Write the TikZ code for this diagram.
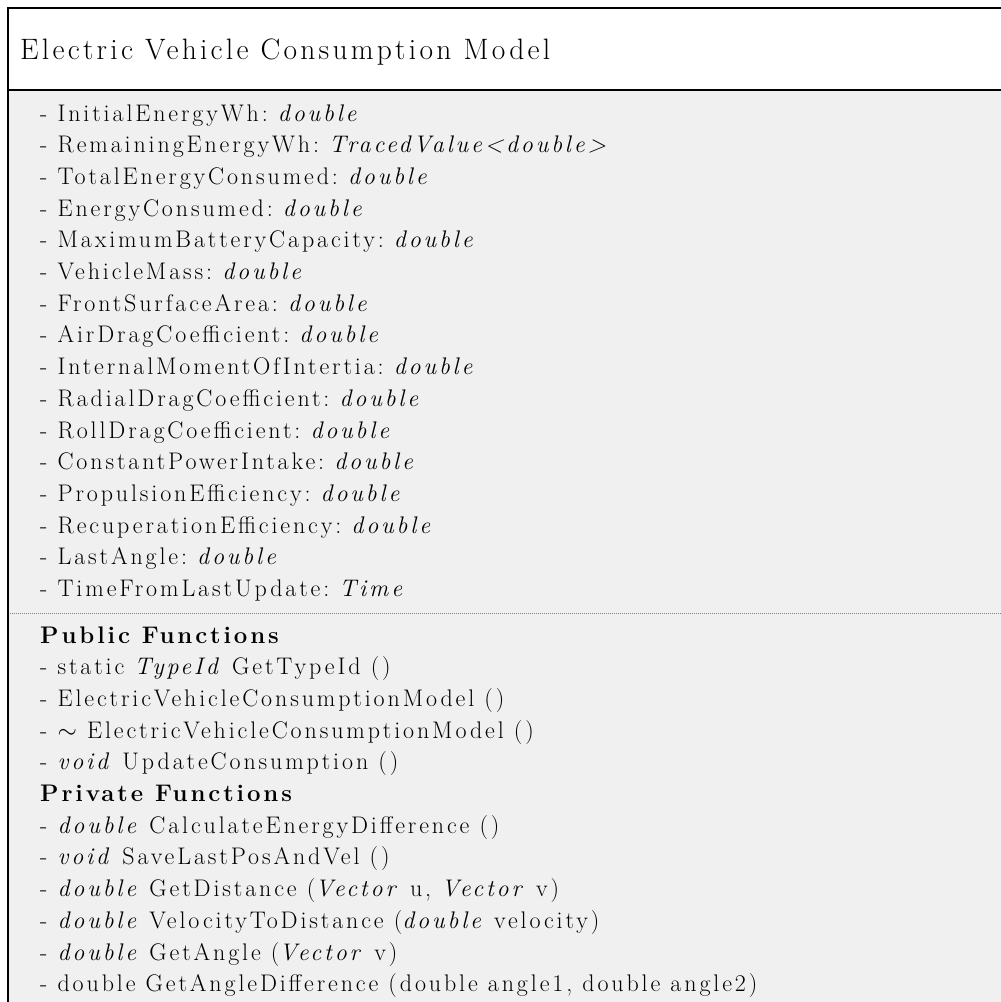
\documentclass[tikz,border=0pt]{standalone}
\usepackage{fontspec}
\setmainfont{Latin Modern Roman}
\frenchspacing
\begin{document}
\begin{tikzpicture}[x=1pt,y=-1pt,
  titletext/.style={anchor=base west,inner sep=0pt,
    font=\fontsize{29.5}{34}\selectfont\addfontfeatures{LetterSpace=11}},
  member/.style={anchor=base west,inner sep=0pt,
    font=\fontsize{24}{28}\selectfont\addfontfeatures{LetterSpace=12}},
  boxline/.style={line width=2pt,black},
  sepline/.style={line width=1pt,gray,dash pattern=on 1pt off 1pt}]
\useasboundingbox (0,0) rectangle (1001,1002);
\clip (0,0) rectangle (1001,1002);
% class compartments
\fill[white] (7.8,7.8) rectangle (1020,90.3);
\fill[black!6] (7.8,90.3) rectangle (1020,1020);
\draw[sepline] (7.8,613) -- (1020,613);
\draw[boxline] (7.8,1020) -- (7.8,7.8) -- (1020,7.8);
\draw[boxline] (7.8,90.3) -- (1020,90.3);
% class name
\node[titletext] (title) at (20,59) {Electric Vehicle Consumption Model};
% attributes
\foreach \n/\t [count=\i from 0] in {
  a1/{- InitialEnergyWh: \textit{double}},
  a2/{- RemainingEnergyWh: \textit{TracedValue<double>}},
  a3/{- TotalEnergyConsumed: \textit{double}},
  a4/{- EnergyConsumed: \textit{double}},
  a5/{- MaximumBatteryCapacity: \textit{double}},
  a6/{- VehicleMass: \textit{double}},
  a7/{- FrontSurfaceArea: \textit{double}},
  a8/{- AirDragCoefficient: \textit{double}},
  a9/{- InternalMomentOfIntertia: \textit{double}},
  a10/{- RadialDragCoefficient: \textit{double}},
  a11/{- RollDragCoefficient: \textit{double}},
  a12/{- ConstantPowerIntake: \textit{double}},
  a13/{- PropulsionEfficiency: \textit{double}},
  a14/{- RecuperationEfficiency: \textit{double}},
  a15/{- LastAngle: \textit{double}},
  a16/{- TimeFromLastUpdate: \textit{Time}}}
  \node[member] (\n) at (40,{121+31.7*\i}) {\t};
% operations
\foreach \n/\t [count=\i from 0] in {
  pubhdr/{\textbf{Public Functions}},
  pub1/{- static \textit{TypeId} GetTypeId ()},
  pub2/{- ElectricVehicleConsumptionModel ()},
  pub3/{- $\sim$ ElectricVehicleConsumptionModel ()},
  pub4/{- \textit{void} UpdateConsumption ()},
  privhdr/{\textbf{Private Functions}},
  priv1/{- \textit{double} CalculateEnergyDifference ()},
  priv2/{- \textit{void} SaveLastPosAndVel ()},
  priv3/{- \textit{double} GetDistance (\textit{Vector} u, \textit{Vector} v)},
  priv4/{- \textit{double} VelocityToDistance (\textit{double} velocity)},
  priv5/{- \textit{double} GetAngle (\textit{Vector} v)},
  priv6/{- double GetAngleDifference (double angle1, double angle2)}}
  \node[member] (\n) at (40,{643+31.7*\i}) {\t};
\end{tikzpicture}
\end{document}
